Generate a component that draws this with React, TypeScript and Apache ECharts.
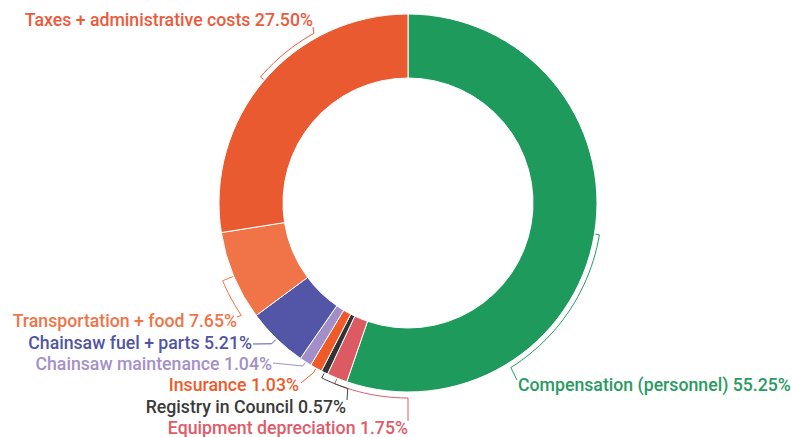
import { useEffect, useRef } from 'react';
import * as echarts from 'echarts';

const categories = [
  'Compensation (personnel)',
  'Equipment depreciation',
  'Registry in Council',
  'Insurance',
  'Chainsaw maintenance',
  'Chainsaw fuel + parts',
  'Transportation + food',
  'Taxes + administrative costs',
];
const shares = [55.25, 1.75, 0.57, 1.03, 1.04, 5.21, 7.65, 27.5];

const sliceColors = ['#1f9a5d', '#dc5a62', '#333333', '#ef5a28', '#a28fca', '#5356a6', '#f17448', '#ea5a30'];
const labelColors = ['#279b60', '#e05a68', '#3a3a3a', '#f05a2a', '#a590c8', '#5154a4', '#f07448', '#ec5a3c'];

// layout (pixels)
const CENTER = [408, 203];
const R_OUT = 189;
const R_IN = 125;

const labelLayout = [
  { x: 518, y: 385, align: 'left' },
  { x: 408, y: 428, align: 'right' },
  { x: 346, y: 407, align: 'right' },
  { x: 299, y: 385, align: 'right' },
  { x: 272, y: 364, align: 'right' },
  { x: 252, y: 343, align: 'right' },
  { x: 237, y: 321, align: 'right' },
  { x: 313, y: 20, align: 'right' },
];

// connector: arc end angle (deg clockwise from top, null = mid), bracket radius, end anchor
const connectors = [
  { arcEnd: 148, r: 194, anchor: [517, 380] },
  { arcEnd: 180, r: 195, anchor: [408, 421] },
  { arcEnd: 198, r: 195, anchor: [347, 400] },
  { arcEnd: null, r: 194, anchor: [301, 383] },
  { arcEnd: null, r: 194, anchor: [273, 363] },
  { arcEnd: null, r: 196, anchor: [253, 344] },
  { arcEnd: 236, r: 201, anchor: [237, 317] },
  { arcEnd: 331, r: 194, anchor: [313, 27] },
];

function pt(angleDeg: number, r: number) {
  const a = (angleDeg * Math.PI) / 180;
  return [CENTER[0] + r * Math.sin(a), CENTER[1] - r * Math.cos(a)];
}

export default function App() {
  const ref = useRef<HTMLDivElement>(null);
  useEffect(() => {
    if (!ref.current) return;
    const chart = echarts.init(ref.current, undefined, { renderer: 'svg' });
    const total = shares.reduce((s, v) => s + v, 0);
    let cum = 0;
    const graphics: any[] = [];
    shares.forEach((v, i) => {
      const start = (cum / total) * 360;
      const end = ((cum + v) / total) * 360;
      cum += v;
      const mid = (start + end) / 2;
      const c = connectors[i];
      const pts: number[][] = [pt(mid, R_OUT + 1), pt(mid, c.r)];
      if (c.arcEnd !== null) {
        const steps = Math.max(2, Math.ceil(Math.abs(c.arcEnd - mid) / 2));
        for (let k = 1; k <= steps; k++) {
          pts.push(pt(mid + ((c.arcEnd - mid) * k) / steps, c.r));
        }
      }
      pts.push(c.anchor);
      graphics.push({
        type: 'polyline',
        silent: true,
        shape: { points: pts },
        style: { stroke: sliceColors[i] === '#333333' ? '#444444' : labelColors[i], lineWidth: 1, fill: 'none' },
        z: 10,
      });
    });

    chart.setOption({
      animation: false,
      backgroundColor: '#ffffff',
      graphic: graphics,
      series: [
        {
          type: 'pie',
          center: CENTER,
          radius: [R_IN, R_OUT],
          startAngle: 90,
          clockwise: true,
          avoidLabelOverlap: false,
          itemStyle: { borderColor: '#ffffff', borderWidth: 1 },
          label: {
            show: true,
            fontFamily: 'Roboto',
            fontWeight: 500,
            fontSize: 17.7,
            formatter: (p: any) => `${p.name} ${p.percent.toFixed(2)}%`,
          },
          labelLine: { show: false },
          labelLayout: (p: any) => {
            const l = labelLayout[p.dataIndex];
            return { x: l.x, y: l.y, align: l.align, verticalAlign: 'middle' };
          },
          emphasis: { disabled: true },
          data: categories.map((name, i) => ({
            name,
            value: shares[i],
            itemStyle: { color: sliceColors[i] },
            label: { color: labelColors[i] },
          })),
        },
      ],
    });
    return () => chart.dispose();
  }, []);
  return (
    <div
      ref={ref}
      style={{ position: 'fixed', left: 0, top: 0, width: 793, height: 437 }}
    />
  );
}
